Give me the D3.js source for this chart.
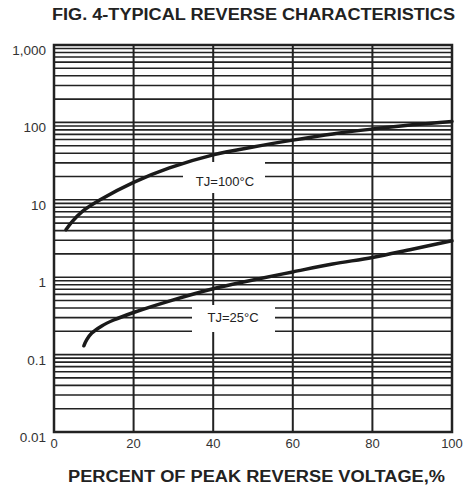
<!DOCTYPE html>
<html>
<head>
<meta charset="utf-8">
<script src="https://cdn.jsdelivr.net/npm/d3@7"></script>
<style>
  body { margin: 0; background: #fff; }
  text { font-family: "Liberation Sans", Arial, sans-serif; }
</style>
</head>
<body>
<div class="chart"></div>
<script>
// Data
var xTicks = [0, 20, 40, 60, 80, 100];
var yTicks = [0.01, 0.1, 1, 10, 100, 1000];
var yTickLabels = ["0.01", "0.1", "1", "10", "100", "1,000"];

var hotVoltage = [3, 4.5, 7, 11.6, 20, 29, 40, 50, 60, 70, 80, 90, 100];
var hotCurrent = [4.1, 5.2, 7.0, 10.0, 16.8, 25.8, 38, 48, 59, 71, 82, 93, 103];

var coldVoltage = [7.5, 8.2, 9.5, 12, 15, 20, 30, 40, 50, 60, 70, 80, 90, 100];
var coldCurrent = [0.13, 0.155, 0.19, 0.235, 0.28, 0.35, 0.51, 0.71, 0.92, 1.17, 1.48, 1.8, 2.3, 2.95];

// SVG area
var svgWidth = 471;
var svgHeight = 488;

var margin = {
  top: 45,
  right: 19,
  bottom: 56,
  left: 54
};

var width = svgWidth - margin.left - margin.right;
var height = svgHeight - margin.top - margin.bottom;

var svg = d3
  .select(".chart")
  .append("svg")
  .attr("width", svgWidth)
  .attr("height", svgHeight);

var chart = svg.append("g")
  .attr("transform", `translate(${margin.left}, ${margin.top})`);

var x = d3.scaleLinear().domain([0, 100]).range([0, width]);
var y = d3.scaleLog().domain([0.01, 1000]).range([height, 0]);

// minor log lines: 1..9 in every decade
var minorLines = [];
for (var k = -2; k < 3; k++) {
  for (var m = 1; m < 10; m++) {
    minorLines.push(m * Math.pow(10, k));
  }
}

chart.append("g")
  .attr("class", "grid")
  .selectAll("line")
  .data(minorLines)
  .enter().append("line")
  .attr("x1", 0)
  .attr("x2", width)
  .attr("y1", function(d) { return y(d); })
  .attr("y2", function(d) { return y(d); })
  .attr("stroke", "#222")
  .attr("stroke-width", 1.6);

chart.append("g")
  .attr("class", "grid")
  .selectAll("line")
  .data(xTicks)
  .enter().append("line")
  .attr("x1", function(d) { return x(d); })
  .attr("x2", function(d) { return x(d); })
  .attr("y1", 0)
  .attr("y2", height)
  .attr("stroke", "#222")
  .attr("stroke-width", 2);

// frame
chart.append("rect")
  .attr("width", width)
  .attr("height", height)
  .attr("fill", "none")
  .attr("stroke", "#222")
  .attr("stroke-width", 2.5);

// white boxes behind the curve labels
chart.append("rect")
  .attr("x", 129).attr("y", 117)
  .attr("width", 82).attr("height", 31)
  .attr("fill", "#fff");

chart.append("rect")
  .attr("x", 138).attr("y", 260)
  .attr("width", 83).attr("height", 27)
  .attr("fill", "#fff");

// curves
var line = d3.line()
  .x(function(d) { return x(d[0]); })
  .y(function(d) { return y(d[1]); })
  .curve(d3.curveCatmullRom.alpha(0.5));

chart.append("path")
  .datum(d3.zip(hotVoltage, hotCurrent))
  .attr("d", line)
  .attr("fill", "none")
  .attr("stroke", "#1a1a1a")
  .attr("stroke-width", 3.5)
  .attr("stroke-linecap", "round");

chart.append("path")
  .datum(d3.zip(coldVoltage, coldCurrent))
  .attr("d", line)
  .attr("fill", "none")
  .attr("stroke", "#1a1a1a")
  .attr("stroke-width", 3.5)
  .attr("stroke-linecap", "round");

chart.append("text")
  .attr("x", 171).attr("y", 138)
  .attr("text-anchor", "middle")
  .attr("dominant-baseline", "middle")
  .style("font-size", "13px")
  .style("fill", "#222")
  .text("TJ=100°C");

chart.append("text")
  .attr("x", 179).attr("y", 274)
  .attr("text-anchor", "middle")
  .attr("dominant-baseline", "middle")
  .style("font-size", "13px")
  .style("fill", "#222")
  .text("TJ=25°C");

// tick labels
chart.selectAll(".xlabel")
  .data(xTicks)
  .enter().append("text")
  .attr("class", "xlabel")
  .attr("x", function(d) { return x(d); })
  .attr("y", height + 16)
  .attr("text-anchor", "middle")
  .style("font-size", "13px")
  .style("fill", "#333")
  .text(function(d) { return d; });

chart.selectAll(".ylabel")
  .data(yTicks)
  .enter().append("text")
  .attr("class", "ylabel")
  .attr("x", -8)
  .attr("y", function(d) { return y(d) + 10; })
  .attr("text-anchor", "end")
  .style("font-size", "13.5px")
  .style("fill", "#333")
  .text(function(d, i) { return yTickLabels[i]; });

// titles
svg.append("text")
  .attr("x", 52)
  .attr("y", 20)
  .attr("textLength", 403)
  .attr("lengthAdjust", "spacingAndGlyphs")
  .style("font-size", "16px")
  .style("font-weight", "bold")
  .style("fill", "#222")
  .text("FIG. 4-TYPICAL REVERSE CHARACTERISTICS");

svg.append("text")
  .attr("x", 68)
  .attr("y", 482)
  .attr("textLength", 377)
  .attr("lengthAdjust", "spacingAndGlyphs")
  .style("font-size", "16px")
  .style("font-weight", "bold")
  .style("fill", "#222")
  .text("PERCENT OF PEAK REVERSE VOLTAGE,%");
</script>
</body>
</html>
